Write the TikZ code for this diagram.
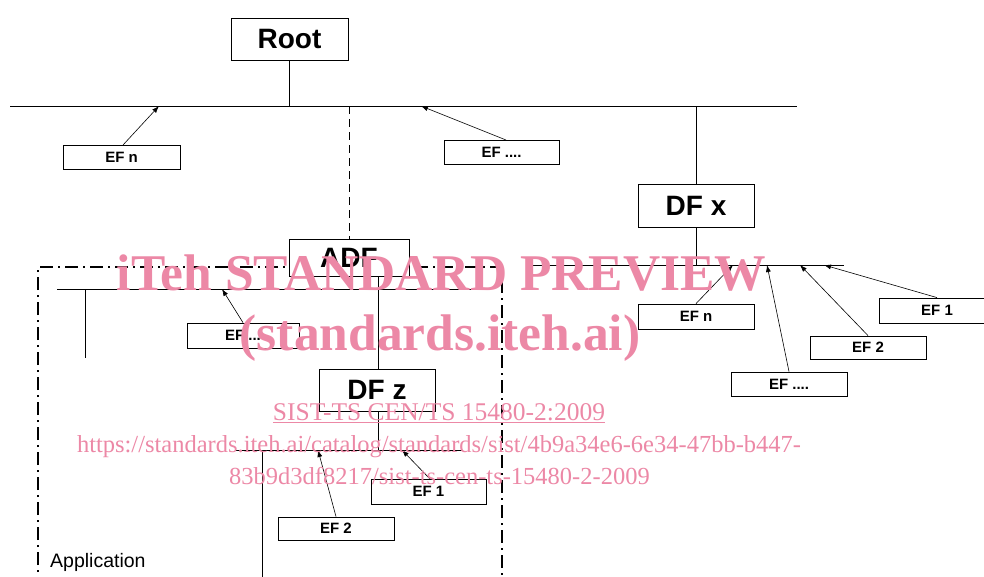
\documentclass[tikz,border=0pt]{standalone}
\usepackage{fontspec}
\setmainfont{Liberation Sans}
\newfontfamily\wmfont{Liberation Serif}
\usetikzlibrary{arrows.meta}
\definecolor{wmpink}{RGB}{236,136,166}
\begin{document}
\begin{tikzpicture}[x=1pt,y=-1pt,
  bigbox/.style={draw,line width=0.9pt,inner sep=0pt,fill=white,font=\fontsize{28}{30}\selectfont\bfseries},
  efbox/.style={draw,line width=0.8pt,inner sep=0pt,font=\bfseries\fontsize{15}{17}\selectfont},
  bus/.style={line width=0.9pt},
  link/.style={line width=0.7pt},
  ptr/.style={line width=0.6pt,-{Latex[length=7pt,width=5pt]}},
  appframe/.style={line width=1.8pt,dash pattern=on 13pt off 5pt on 2pt off 5pt},
  wm/.style={text=wmpink,inner sep=0pt,anchor=base}]
\useasboundingbox (0,0) rectangle (984,576);
% top level
\node[bigbox,minimum width=117pt,minimum height=42pt] (root) at (289.5,39) {Root};
\coordinate (busAL) at (10,106);
\coordinate (busAR) at (797,106);
\draw[bus] (busAL) -- (busAR);
\coordinate (rootJ) at (root.south |- busAL);
\draw[link] (root.south) -- (rootJ);
\node[efbox,minimum width=117pt,minimum height=24pt] (efnA) at (121.5,157) {EF n};
\node[efbox,minimum width=115pt,minimum height=24pt] (efdA) at (501.5,152) {EF ....};
\coordinate (tA1) at (159,106);
\coordinate (tA2) at (421,106);
\draw[ptr] (123,145) coordinate (sA1) -- (tA1);
\draw[ptr] (506,140) coordinate (sA2) -- (tA2);
% DF x
\node[bigbox,minimum width=116pt,minimum height=43pt] (dfx) at (696,205.5) {DF x};
\coordinate (dfxJ) at (dfx.north |- busAL);
\draw[link] (dfxJ) -- (dfx.north);
\coordinate (busBL) at (531,265);
\coordinate (busBR) at (844,265);
\draw[bus] (busBL) -- (busBR);
\coordinate (dfxK) at (dfx.south |- busBL);
\draw[link] (dfx.south) -- (dfxK);
\node[efbox,minimum width=116pt,minimum height=25pt] (efnB) at (696,316.5) {EF n};
\node[efbox,minimum width=116pt,minimum height=24pt] (efdB) at (789,384) {EF ....};
\node[efbox,minimum width=116pt,minimum height=23pt] (ef2B) at (868,347.5) {EF 2};
\node[efbox,minimum width=116pt,minimum height=25pt] (ef1B) at (937,310.5) {EF 1};
\coordinate (tB1) at (733,265);
\coordinate (tB2) at (767,265);
\coordinate (tB3) at (800,265);
\coordinate (tB4) at (824,265);
\draw[ptr] (efnB.north) -- (tB1);
\draw[ptr] (efdB.north) -- (tB2);
\draw[ptr] (ef2B.north) -- (tB3);
\draw[ptr] (ef1B.north) -- (tB4);
% application frame, then ADF on top of it
\draw[appframe] (38,590) -- (38,267) -- (502,267) -- (502,590);
\node[bigbox,minimum width=120pt,minimum height=37pt] (adf) at (349,257.5) {ADF};
\coordinate (adfJ) at (adf.north |- busAL);
\draw[link,dash pattern=on 8pt off 5pt] (adfJ) -- (adf.north);
\coordinate (busCL) at (57,289);
\coordinate (busCR) at (475,289);
\draw[bus] (busCL) -- (busCR);
\coordinate (stubC) at (85,289);
\coordinate (stubCe) at (85,358);
\draw[link] (stubC) -- (stubCe);
\node[efbox,minimum width=112pt,minimum height=25pt] (efdC) at (243,335.5) {EF ...};
\coordinate (tC1) at (222,289);
\draw[ptr] (efdC.north) -- (tC1);
% DF z
\node[bigbox,minimum width=116pt,minimum height=42pt] (dfz) at (377,390) {DF z};
\coordinate (adfS) at (378,276);
\coordinate (dfzN) at (378,369);
\draw[link] (adfS) -- (dfzN);
\coordinate (busDL) at (236,450);
\coordinate (busDR) at (463,450);
\draw[bus] (busDL) -- (busDR);
\coordinate (dfzS) at (378,411);
\coordinate (dfzK) at (378,450);
\draw[link] (dfzS) -- (dfzK);
\coordinate (stubD) at (262,450);
\coordinate (stubDe) at (262,580);
\draw[link] (stubD) -- (stubDe);
\node[efbox,minimum width=115pt,minimum height=25pt] (ef1D) at (428.5,491.5) {EF 1};
\node[efbox,minimum width=116pt,minimum height=23pt] (ef2D) at (336,528.5) {EF 2};
\coordinate (tD1) at (402,450);
\coordinate (tD2) at (318,450);
\draw[ptr] (430,479) coordinate (sD1) -- (tD1);
\draw[ptr] (ef2D.north) -- (tD2);
\node[anchor=west,inner sep=0pt,font=\fontsize{19.5}{22}\selectfont] (app) at (50,562) {Application};
% watermark
\node[wm,font=\wmfont\bfseries\fontsize{51.5}{54}\selectfont] (wm1) at (441.5,290) {iTeh STANDARD PREVIEW};
\node[wm,font=\wmfont\bfseries\fontsize{51.5}{54}\selectfont] (wm2) at (440,350) {(standards.iteh.ai)};
\node[wm,font=\wmfont\fontsize{25.5}{28}\selectfont] (wm3) at (439,420) {\underline{SIST-TS CEN/TS 15480-2:2009}};
\node[wm,font=\wmfont\fontsize{24.5}{27}\selectfont] (wm4) at (439,452) {https://standards.iteh.ai/catalog/standards/sist/4b9a34e6-6e34-47bb-b447-};
\node[wm,font=\wmfont\fontsize{24.5}{27}\selectfont] (wm5) at (439.5,484) {83b9d3df8217/sist-ts-cen-ts-15480-2-2009};
\end{tikzpicture}
\end{document}
